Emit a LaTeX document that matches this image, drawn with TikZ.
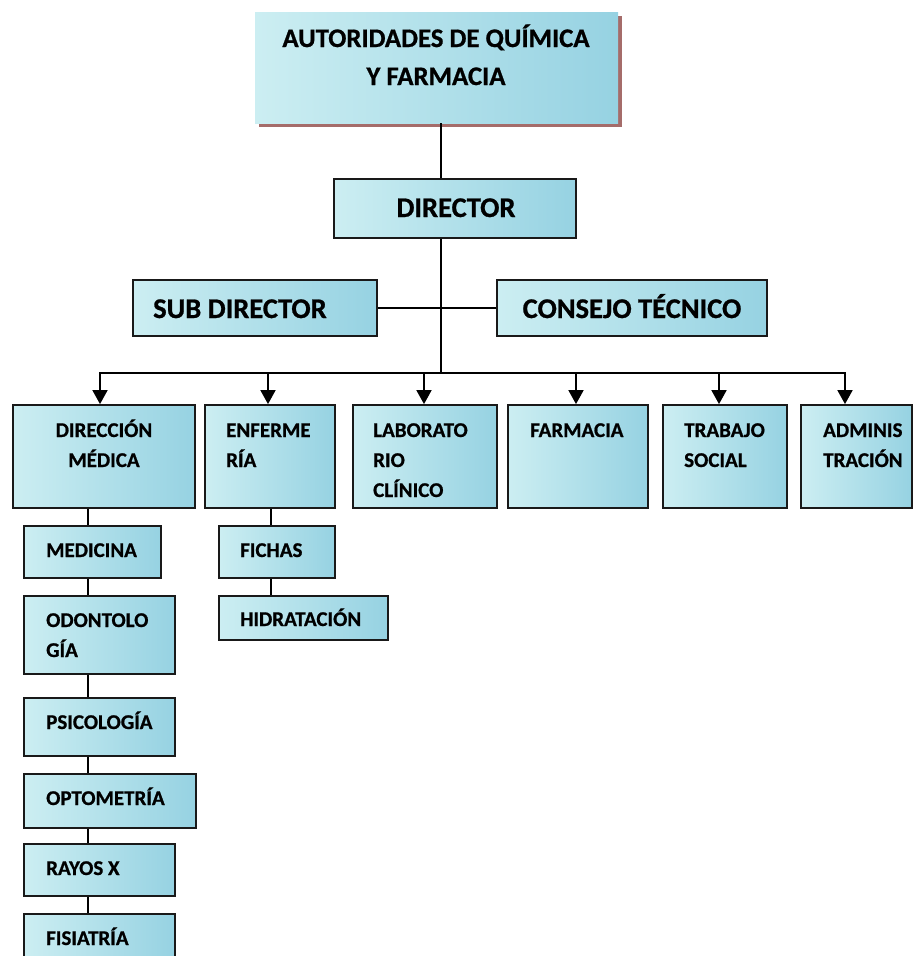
\documentclass[tikz,border=0pt]{standalone}
\usepackage{fontspec}
\setmainfont{Carlito}[BoldFeatures={FakeBold=0.8}]
\usetikzlibrary{arrows.meta,fit,shadows}
\definecolor{wlight}{RGB}{204,238,242}
\definecolor{wdark}{RGB}{150,210,226}
\definecolor{shad}{RGB}{165,108,106}
\tikzset{
  box/.style={draw=black!90, line width=1.8pt, left color=wlight, right color=wdark, inner sep=0pt, fit={#1}},
  topbox/.style={left color=wlight, right color=wdark, inner sep=0pt, fit={#1},
    drop shadow={shadow xshift=4pt, shadow yshift=-4pt, fill=shad, opacity=1}},
  conn/.style={line width=1.8pt, black},
  thinconn/.style={line width=1.2pt, black},
  arr/.style={conn, -{Triangle[width=15pt,length=14pt]}},
  fbig/.style={font=\fontsize{28.5}{34}\selectfont\bfseries, inner sep=0pt},
  ftop/.style={font=\fontsize{26.8}{38}\selectfont\bfseries, inner sep=0pt},
  fsm/.style={font=\fontsize{21}{30}\selectfont\bfseries, inner sep=0pt, anchor=base west},
}
\newcommand{\lines}[1]{\begin{tabular}[t]{@{}l@{}}#1\end{tabular}}
\newcommand{\clines}[1]{\begin{tabular}[t]{@{}c@{}}#1\end{tabular}}
\begin{document}
\begin{tikzpicture}[x=1pt,y=-1pt]
\useasboundingbox (0,0) rectangle (914,956);
% top levels
\node[topbox={(255,12) (618,123)}] (au) {};
\node[ftop, anchor=base] (aut) at (436,47) {\clines{AUTORIDADES DE QUÍMICA\\[0pt]Y FARMACIA}};
\node[box={(334,179) (576,238)}] (dir) {};
\node[fbig, anchor=base] (dirt) at (456,217) {DIRECTOR};
\node[box={(133,280) (377,336)}] (sub) {};
\node[fbig, anchor=base west] (subt) at (153,318) {SUB DIRECTOR};
\node[box={(497,280) (767,336)}] (cons) {};
\node[fbig, anchor=base] (const) at (632,318) {CONSEJO TÉCNICO};
% second row
\node[box={(13,405) (195,508)}] (dm) {};
\node[fsm, anchor=base] (dmt) at (104,437) {\clines{DIRECCIÓN\\MÉDICA}};
\node[box={(205,405) (335,508)}] (enf) {};
\node[fsm] (enft) at (226,437) {\lines{ENFERME\\RÍA}};
\node[box={(353,405) (497,508)}] (lab) {};
\node[fsm] (labt) at (373,437) {\lines{LABORATO\\RIO\\CLÍNICO}};
\node[box={(508,405) (648,508)}] (far) {};
\node[fsm] (fart) at (530,437) {FARMACIA};
\node[box={(663,405) (787,508)}] (tra) {};
\node[fsm] (trat) at (684,437) {\lines{TRABAJO\\SOCIAL}};
\node[box={(801,405) (912,508)}] (adm) {};
\node[fsm] (admt) at (823,437) {\lines{ADMINIS\\TRACIÓN}};
% medical column
\node[box={(24,526) (161,578)}] (med) {};
\node[fsm] (medt) at (46,557) {MEDICINA};
\node[box={(24,596) (175,674)}] (odo) {};
\node[fsm] (odot) at (46,627) {\lines{ODONTOLO\\GÍA}};
\node[box={(24,698) (175,756)}] (psi) {};
\node[fsm] (psit) at (46,729) {PSICOLOGÍA};
\node[box={(24,774) (196,828)}] (opt) {};
\node[fsm] (optt) at (46,805) {OPTOMETRÍA};
\node[box={(24,844) (175,896)}] (ray) {};
\node[fsm] (rayt) at (46,875) {RAYOS X};
\node[box={(24,914) (175,968)}] (fis) {};
\node[fsm] (fist) at (46,945) {FISIATRÍA};
% nursing column
\node[box={(219,526) (335,578)}] (fic) {};
\node[fsm] (fict) at (240,557) {FICHAS};
\node[box={(219,596) (388,640)}] (hid) {};
\node[fsm] (hidt) at (240,626) {HIDRATACIÓN};
% connectors
\coordinate (t) at (441,373);
\draw[conn] (t |- au.south) -- (t |- dir.north);
\draw[conn] (t |- dir.south) -- (t);
\draw[thinconn] (sub.east) -- (cons.west);
\coordinate (b1) at (100,373);
\coordinate (b2) at (268,373);
\coordinate (b3) at (424,373);
\coordinate (b4) at (576,373);
\coordinate (b5) at (719,373);
\coordinate (b6) at (845,373);
\draw[conn] ([xshift=-0.9pt]b1) -- ([xshift=0.9pt]b6);
\draw[arr] (b1) -- (b1 |- dm.north);
\draw[arr] (b2) -- (b2 |- enf.north);
\draw[arr] (b3) -- (b3 |- lab.north);
\draw[arr] (b4) -- (b4 |- far.north);
\draw[arr] (b5) -- (b5 |- tra.north);
\draw[arr] (b6) -- (b6 |- adm.north);
\coordinate (v1) at (88,0);
\coordinate (v2) at (271,0);
\draw[conn] (v1 |- dm.south) -- (v1 |- med.north);
\draw[conn] (v1 |- med.south) -- (v1 |- odo.north);
\draw[conn] (v1 |- odo.south) -- (v1 |- psi.north);
\draw[conn] (v1 |- psi.south) -- (v1 |- opt.north);
\draw[conn] (v1 |- opt.south) -- (v1 |- ray.north);
\draw[conn] (v1 |- ray.south) -- (v1 |- fis.north);
\draw[conn] (v2 |- enf.south) -- (v2 |- fic.north);
\draw[conn] (v2 |- fic.south) -- (v2 |- hid.north);
\end{tikzpicture}
\end{document}
